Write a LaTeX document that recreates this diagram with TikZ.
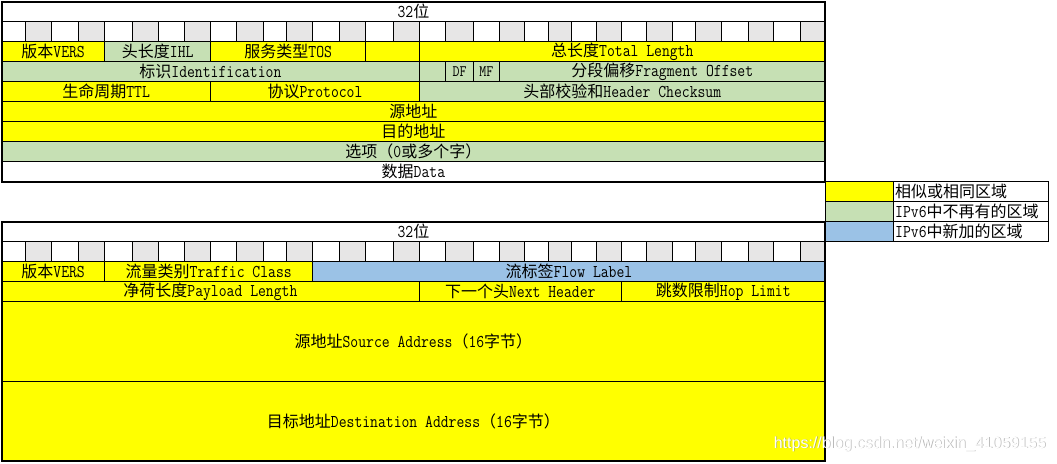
\documentclass[tikz,border=0pt]{standalone}
\usepackage{fontspec}
\setmainfont{Latin Modern Mono}[FakeStretch=0.847]
\newfontfamily\cjk{Noto Sans CJK SC}[Scale=0.889]
\newfontfamily\wmfont{Liberation Sans}
\newcommand\zh[1]{{\cjk #1}}
\definecolor{xyellow}{HTML}{FFFF00}
\definecolor{xgreen}{HTML}{C6E0B4}
\definecolor{xblue}{HTML}{9BC2E6}
\definecolor{xgray}{HTML}{E7E6E6}
\newcommand\cell[7]{%
  \edef\xa{\csname cx#2\endcsname}\edef\xb{\csname cx#3\endcsname}%
  \path[cellbox,fill=#6] (\xa,#4) rectangle node[lbl] (#1) {#7} (\xb,#5);}
\newcommand\gridrow[2]{%
  \foreach \i in {0,...,31}{%
    \pgfmathtruncatemacro\j{\i+1}%
    \pgfmathtruncatemacro\odd{mod(\i,2)}%
    \edef\xa{\csname cx\i\endcsname}\edef\xb{\csname cx\j\endcsname}%
    \ifnum\odd=1 \def\gc{xgray}\else\def\gc{white}\fi
    \path[cellbox,fill=\gc] (\xa,#1) rectangle (\xb,#2);}}
\begin{document}
\begin{tikzpicture}[x=1pt,y=-1pt,
  lbl/.style={inner sep=0pt,font=\fontsize{18}{18}\selectfont,text=black},
  cellbox/.style={draw=black,line width=1pt},
  frame/.style={draw=black,line width=2pt},
  wm/.style={inner sep=0pt,anchor=east,font=\wmfont\fontsize{16}{16}\selectfont}]
\useasboundingbox (0,0) rectangle (1057,463);
\fill[white] (0,0) rectangle (1057,463);
\foreach \xx [count=\i from 0] in {1.5,25.7,51.7,78.7,104.7,132.7,158.7,184.7,210.7,236.7,263,286.7,312.7,339,365.7,393.3,419.3,445.7,473.3,499.3,524.7,548.7,571.3,596.7,621.3,646.7,672.7,695.3,721.3,748,773.3,800.7,825.3}
  {\expandafter\xdef\csname cx\i\endcsname{\xx}}

% ---------- IPv4 header ----------
\cell{tbits}{0}{32}{1.7}{21.7}{white}{32\zh{位}}
\gridrow{21.7}{41.7}
\cell{vers}{0}{4}{41.7}{61.7}{xyellow}{\zh{版本}VERS}
\cell{ihl}{4}{8}{41.7}{61.7}{xgreen}{\zh{头长度}IHL}
\cell{tos}{8}{14}{41.7}{61.7}{xyellow}{\zh{服务类型}TOS}
\cell{tosx}{14}{16}{41.7}{61.7}{xyellow}{}
\cell{tlen}{16}{32}{41.7}{61.7}{xyellow}{\zh{总长度}Total Length}
\cell{ident}{0}{16}{61.7}{81.7}{xgreen}{\zh{标识}Identification}
\cell{flag}{16}{17}{61.7}{81.7}{xgreen}{}
\cell{df}{17}{18}{61.7}{81.7}{xgreen}{\fontsize{16}{16}\selectfont DF}
\cell{mf}{18}{19}{61.7}{81.7}{xgreen}{\fontsize{16}{16}\selectfont MF}
\cell{frag}{19}{32}{61.7}{81.7}{xgreen}{\zh{分段偏移}Fragment Offset}
\cell{ttl}{0}{8}{81.7}{101.7}{xyellow}{\zh{生命周期}TTL}
\cell{proto}{8}{16}{81.7}{101.7}{xyellow}{\zh{协议}Protocol}
\cell{csum}{16}{32}{81.7}{101.7}{xgreen}{\zh{头部校验和}Header Checksum}
\cell{src}{0}{32}{101.7}{121.7}{xyellow}{\zh{源地址}}
\cell{dst}{0}{32}{121.7}{141.7}{xyellow}{\zh{目的地址}}
\cell{opt}{0}{32}{141.7}{161.7}{xgreen}{\zh{选项（}0\zh{或多个字）}}
\cell{data}{0}{32}{161.7}{181.7}{white}{\zh{数据}Data}
\draw[frame] (\csname cx0\endcsname,1.7) rectangle (\csname cx32\endcsname,181.7);

% ---------- legend ----------
\path[cellbox,fill=xyellow] (825.3,181.7) rectangle (893.3,201.7);
\path[cellbox,fill=white] (893.3,181.7) rectangle (1048.3,201.7);
\path[cellbox,fill=xgreen] (825.3,201.7) rectangle (893.3,221.7);
\path[cellbox,fill=white] (893.3,201.7) rectangle (1048.3,221.7);
\path[cellbox,fill=xblue] (825.3,221.7) rectangle (893.3,241.7);
\path[cellbox,fill=white] (893.3,221.7) rectangle (1048.3,241.7);
\node[lbl,anchor=west] (leg1) at (895,191.7) {\zh{相似或相同区域}};
\node[lbl,anchor=west] (leg2) at (895,211.7) {IPv6\zh{中不再有的区域}};
\node[lbl,anchor=west] (leg3) at (895,231.7) {IPv6\zh{中新加的区域}};

% ---------- IPv6 header ----------
\cell{bbits}{0}{32}{221.7}{241.7}{white}{32\zh{位}}
\gridrow{241.7}{261.7}
\cell{bvers}{0}{4}{261.7}{281.7}{xyellow}{\zh{版本}VERS}
\cell{tclass}{4}{12}{261.7}{281.7}{xyellow}{\zh{流量类别}Traffic Class}
\cell{flow}{12}{32}{261.7}{281.7}{xblue}{\zh{流标签}Flow Label}
\cell{plen}{0}{16}{281.7}{301.7}{xyellow}{\zh{净荷长度}Payload Length}
\cell{nexth}{16}{24}{281.7}{301.7}{xyellow}{\zh{下一个头}Next Header}
\cell{hop}{24}{32}{281.7}{301.7}{xyellow}{\zh{跳数限制}Hop Limit}
\cell{bsrc}{0}{32}{301.7}{381.3}{xyellow}{\zh{源地址}Source Address\zh{（}16\zh{字节）}}
\cell{bdst}{0}{32}{381.3}{460.7}{xyellow}{\zh{目标地址}Destination Address\zh{（}16\zh{字节）}}
\draw[frame] (\csname cx0\endcsname,221.7) rectangle (\csname cx32\endcsname,460.7);

% ---------- watermark ----------
\node[wm,text=black!50,opacity=0.55] (wmshadow) at (1047,444.8) {https://blog.csdn.net/weixin\_41059155};
\node[wm,text=white] (wmtext) at (1046.2,444) {https://blog.csdn.net/weixin\_41059155};
\end{tikzpicture}
\end{document}
